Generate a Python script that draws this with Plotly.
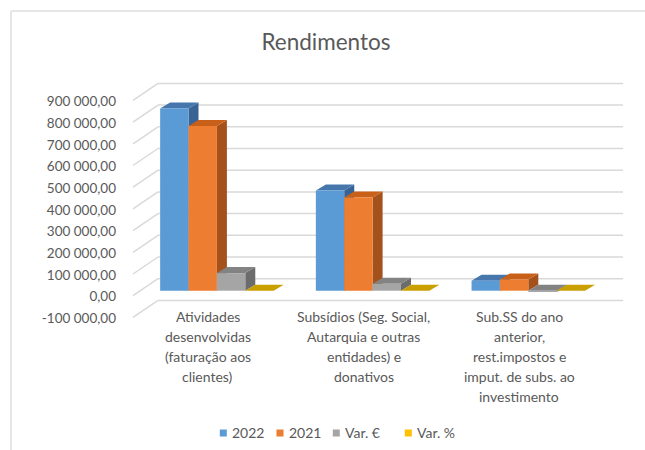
import plotly.graph_objects as go

# ---------------- data ----------------
CATEGORIES = [
    "Atividades<br>desenvolvidas<br>(faturação aos<br>clientes)",
    "Subsídios (Seg. Social,<br>Autarquia e outras<br>entidades) e<br>donativos",
    "Sub.SS do ano<br>anterior,<br>rest.impostos e<br>imput. de subs. ao<br>investimento",
]
SERIES = ["2022", "2021", "Var. €", "Var. %"]
V2022 = [840000, 462000, 46000]
V2021 = [759000, 430000, 52000]
VAR_EUR = [81000, 32000, -6000]
VAR_PCT = [0.107, 0.074, -0.115]
Y_TICKS = [-100000, 0, 100000, 200000, 300000, 400000, 500000, 600000, 700000, 800000, 900000]
Y_TICK_LABELS = ["-100 000,00", "0,00", "100 000,00", "200 000,00", "300 000,00",
                 "400 000,00", "500 000,00", "600 000,00", "700 000,00", "800 000,00",
                 "900 000,00"]

# ---------------- style ----------------
FRONT = ["#5b9bd5", "#ed7d31", "#a5a5a5", "#ffc000"]
TOP = ["#4577ad", "#c8601a", "#838383", "#c9a000"]
SIDE = ["#386394", "#a5511b", "#6c6c6c", "#a68400"]
FONT = "Lato, 'Open Sans', sans-serif"
TXT = "#595959"
GRID = "#d9d9d9"

W, H = 645, 450
ML, MR, MT, MB = 120, 15, 60, 120
PL, PR, PT, PB = ML, W - MR, MT, H - MB          # plot area in px
X0PX, KX = 216.9, 155.7                          # px of x=0, px per category
Y0PX, KY = 290.7, 21.7 / 100000                  # px of value 0, px per unit
xr = [(PL - X0PX) / KX, (PR - X0PX) / KX]
yr = [-(PB - Y0PX) / KY, (Y0PX - PT) / KY]

BARGAP = 0.271
NB = len(SERIES)
BW = (1 - BARGAP) / NB
DX, DY = 10 / KX, 6 / KY                          # depth of the 3D bars
BACK = 12 / KY                                    # back wall offset
FRONTWALL = 5 / KY

LEG_SQ_X = [223.3, 280.0, 336.3, 408.3]           # legend square centres (px)
LEG_Y = 433.0

def px_x(p):
    return (p - X0PX) / KX

def paper_y(p):
    return (PB - p) / (PB - PT)

def paper_x(p):
    return (p - PL) / (PR - PL)

values = [V2022, V2021, VAR_EUR, VAR_PCT]
fig = go.Figure()
for k, name in enumerate(SERIES):
    fig.add_trace(go.Bar(
        x=list(range(len(CATEGORIES))), y=values[k], name=name,
        marker=dict(color=FRONT[k], line=dict(width=0)),
        hoverinfo="y+name", showlegend=False,
    ))

shapes = []
# walls / gridlines
for v in Y_TICKS:
    shapes.append(dict(type="line", xref="x", yref="y", layer="below",
                       x0=px_x(133), y0=v - FRONTWALL, x1=px_x(158), y1=v + BACK,
                       line=dict(color=GRID, width=1.5)))
    shapes.append(dict(type="line", xref="x", yref="y", layer="below",
                       x0=px_x(158), y0=v + BACK, x1=px_x(623), y1=v + BACK,
                       line=dict(color=GRID, width=1.5)))

def path(pts):
    return "M " + " L ".join(f"{a},{b}" for a, b in pts) + " Z"

# 3D side and top faces, left to right
for i in range(len(CATEGORIES)):
    for k in range(NB):
        v = values[k][i]
        xl = i + (k - NB / 2) * BW
        xrr = xl + BW
        yt, yb = max(v, 0), min(v, 0)
        shapes.append(dict(type="path", xref="x", yref="y", layer="below",
                           path=path([(xrr, yb), (xrr + DX, yb + DY), (xrr + DX, yt + DY), (xrr, yt)]),
                           fillcolor=SIDE[k], line=dict(width=0)))
        shapes.append(dict(type="path", xref="x", yref="y", layer="below",
                           path=path([(xl, yt), (xrr, yt), (xrr + DX, yt + DY), (xl + DX, yt + DY)]),
                           fillcolor=TOP[k], line=dict(width=0)))

# chart frame (top and left)
shapes.append(dict(type="line", xref="paper", yref="paper",
                   x0=paper_x(11), y0=paper_y(11), x1=paper_x(W), y1=paper_y(11),
                   line=dict(color="#e6e6e6", width=2)))
shapes.append(dict(type="line", xref="paper", yref="paper",
                   x0=paper_x(11), y0=paper_y(11), x1=paper_x(11), y1=paper_y(H),
                   line=dict(color="#e6e6e6", width=2)))

annotations = []
for i, cat in enumerate(CATEGORIES):
    for j, line in enumerate(cat.split("<br>")):
        annotations.append(dict(x=i, xref="x", xshift=-9, y=paper_y(316.7 + j * 20), yref="paper",
                                text=line, showarrow=False, xanchor="center", yanchor="middle",
                                font=dict(family=FONT, size=14, color=TXT)))

# legend (small squares + labels)
for k, name in enumerate(SERIES):
    cx = LEG_SQ_X[k]
    shapes.append(dict(type="rect", xref="paper", yref="paper",
                       x0=paper_x(cx - 3.5), x1=paper_x(cx + 3.5),
                       y0=paper_y(LEG_Y - 3.5), y1=paper_y(LEG_Y + 3.5),
                       fillcolor=FRONT[k], line=dict(width=0)))
    annotations.append(dict(x=paper_x(cx + 6.5), xref="paper", y=paper_y(LEG_Y - 0.5), yref="paper",
                            text=name, showarrow=False, xanchor="left", yanchor="middle",
                            font=dict(family=FONT, size=14, color=TXT)))

fig.update_layout(
    width=W, height=H, margin=dict(l=ML, r=MR, t=MT, b=MB, autoexpand=False),
    paper_bgcolor="white", plot_bgcolor="white",
    barmode="group", bargap=BARGAP, bargroupgap=0,
    title=dict(text="Rendimentos", x=326 / W, xref="container", xanchor="center",
               y=1 - 42 / H, yref="container", yanchor="middle",
               font=dict(family=FONT, size=22.5, color=TXT)),
    xaxis=dict(range=xr, showgrid=False, zeroline=False, showline=False,
               showticklabels=False, ticks="", automargin=False),
    yaxis=dict(range=yr, tickvals=Y_TICKS, ticktext=Y_TICK_LABELS, showgrid=False,
               zeroline=False, showline=False, ticks="", ticklabelshift=6,
               ticklabelstandoff=3, automargin=False,
               tickfont=dict(family=FONT, size=13.5, color=TXT)),
    shapes=shapes, annotations=annotations, showlegend=False,
)
fig.write_html("out.html", config={"displayModeBar": False},
               post_script="document.body.style.margin='0';")
